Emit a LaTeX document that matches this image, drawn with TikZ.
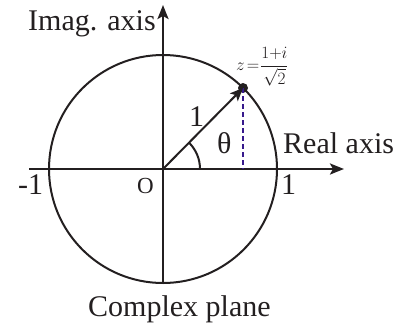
\documentclass[tikz,border=0pt]{standalone}
\usepackage{amsmath}
\usepackage{fontspec}
\setmainfont{Liberation Serif}
\usetikzlibrary{arrows.meta}
\definecolor{ink}{RGB}{35,31,32}
\definecolor{dashblue}{RGB}{55,25,140}
\begin{document}
\begin{tikzpicture}[x=1pt,y=-1pt,
  axis/.style={ink,line width=2.4pt,-{Stealth[length=14pt,width=11pt,inset=3pt]}},
  lbl/.style={inner sep=0pt,anchor=base west,font=\fontsize{30}{34}\selectfont,text=ink},
  small/.style={inner sep=0pt,anchor=base west,font=\fontsize{23}{27}\selectfont,text=ink}]
\useasboundingbox (0,0) rectangle (414,324);
% geometry
\coordinate (O) at (163,169);
\coordinate (xl) at (29,169);
\coordinate (xr) at (344,169);
\coordinate (yb) at (163,283);
\coordinate (yt) at (163,5);
\coordinate (foot) at (243,169);
\node[circle,draw=ink,line width=2pt,minimum size=228pt,inner sep=0pt] (C) at (O) {};
\draw[axis] (xl) -- (xr);
\draw[axis] (yb) -- (yt);
\node[circle,fill=ink,minimum size=10pt,inner sep=0pt] (P) at (243,88) {};
\draw[dashblue,line width=2.8pt,dash pattern=on 5pt off 3pt] (P.center) -- (foot);
\draw[ink,line width=2pt,-{Stealth[length=13pt,width=11pt,inset=3pt]}] (O) -- (P.center);
\draw[ink,line width=2pt] ([xshift=37pt]O) arc[start angle=0,end angle=45,radius=37pt];
% labels
\node[lbl] (imag) at (28,30) {Imag. axis};
\node[lbl] (real) at (283,153) {Real axis};
\node[lbl] (cplx) at (88,316) {Complex plane};
\node[lbl] (m1) at (18,194) {-1};
\node[small] (o) at (137,193) {O};
\node[lbl] (p1) at (281,194) {1};
\node[lbl] (one) at (189,126) {1};
\node[lbl] (th) at (217,153) {θ};
\node[inner sep=0pt,anchor=west,font=\fontsize{17}{20}\selectfont,text=ink] (z) at (236,67) {$z\mkern2mu{=}\mkern1mu\dfrac{1{+}i}{\sqrt{2}}$};
\end{tikzpicture}
\end{document}
